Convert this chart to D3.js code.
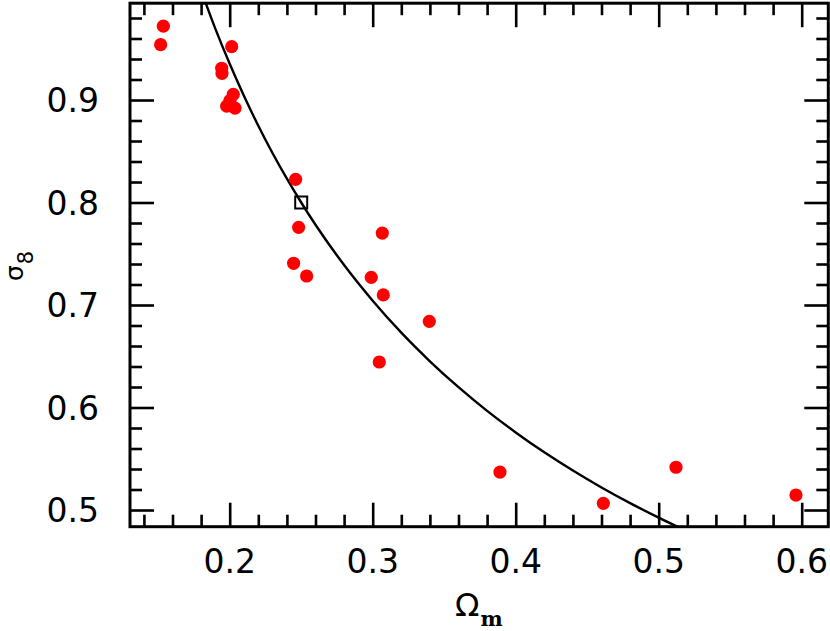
<!DOCTYPE html>
<html>
<head>
<meta charset="utf-8">
<script src="https://cdn.jsdelivr.net/npm/d3@7/dist/d3.min.js"></script>
<style>
  html, body { margin: 0; padding: 0; background: #fff; }
  svg { display: block; }
</style>
</head>
<body>
<svg id="chart" width="830" height="631"></svg>
<script>
// ---- data ----
const omegaM = [0.1536, 0.1517, 0.2014, 0.1944, 0.1946, 0.2025, 0.2002, 0.1979, 0.2037,
                0.2461, 0.2482, 0.3067, 0.2447, 0.2538, 0.2990, 0.3074, 0.3396, 0.3046,
                0.3890, 0.4613, 0.5121, 0.5960];
const sigma8 = [0.972, 0.954, 0.952, 0.931, 0.926, 0.9055, 0.8995, 0.894, 0.892,
                0.8226, 0.7758, 0.7702, 0.7407, 0.7283, 0.7270, 0.7098, 0.6841, 0.6444,
                0.537, 0.5065, 0.5417, 0.5146];
const fiducialX = [0.25];
const fiducialY = [0.80];
const curveX = [0.18, 0.19, 0.20, 0.21, 0.22, 0.23, 0.24, 0.25, 0.26, 0.28, 0.30,
                0.32, 0.34, 0.36, 0.38, 0.40, 0.42, 0.44, 0.46, 0.48, 0.50, 0.52];
const curveY = [1.0069, 0.9694, 0.9353, 0.9039, 0.8749, 0.8481, 0.8232, 0.8000, 0.7783, 0.7390, 0.7042,
                0.6730, 0.6451, 0.6198, 0.5967, 0.5757, 0.5563, 0.5385, 0.5220, 0.5067, 0.4925, 0.4791];
const xMajorTicks = [0.2, 0.3, 0.4, 0.5, 0.6];
const yMajorTicks = [0.5, 0.6, 0.7, 0.8, 0.9];
const xMinorTicks = d3.range(14, 62, 2).map(v => v / 100).filter(v => !xMajorTicks.some(m => Math.abs(m - v) < 1e-9));
const yMinorTicks = d3.range(50, 100, 2).map(v => v / 100).filter(v => !yMajorTicks.some(m => Math.abs(m - v) < 1e-9));

// ---- layout ----
const L = 130, R = 828.3, T = 3.2, B = 526.7;
const x = d3.scaleLinear().domain([0.13028, 0.6186]).range([L, R]);
const y = d3.scaleLinear().domain([0.48371, 0.99444]).range([B, T]);

const svg = d3.select("#chart");
const font = "'DejaVu Sans', sans-serif";

svg.append("defs").append("clipPath").attr("id", "clip")
  .append("rect").attr("x", L).attr("y", T).attr("width", R - L).attr("height", B - T);

// ---- axes (ticks inward on all four sides) ----
function addAxis(gen, transform) {
  const g = svg.append("g").attr("transform", transform).call(gen);
  g.select(".domain").remove();
  g.selectAll("line").attr("stroke", "#000").attr("stroke-width", 2.6);
  g.selectAll("text").remove();
  return g;
}
const maj = 24, min = 12;
addAxis(d3.axisBottom(x).tickValues(xMajorTicks).tickSize(-maj), `translate(0,${B})`);
addAxis(d3.axisBottom(x).tickValues(xMinorTicks).tickSize(-min), `translate(0,${B})`);
addAxis(d3.axisTop(x).tickValues(xMajorTicks).tickSize(-maj), `translate(0,${T})`);
addAxis(d3.axisTop(x).tickValues(xMinorTicks).tickSize(-min), `translate(0,${T})`);
addAxis(d3.axisLeft(y).tickValues(yMajorTicks).tickSize(-maj), `translate(${L},0)`);
addAxis(d3.axisLeft(y).tickValues(yMinorTicks).tickSize(-min), `translate(${L},0)`);
addAxis(d3.axisRight(y).tickValues(yMajorTicks).tickSize(-maj), `translate(${R},0)`);
addAxis(d3.axisRight(y).tickValues(yMinorTicks).tickSize(-min), `translate(${R},0)`);

// tick labels
svg.append("g").selectAll("text").data(xMajorTicks).join("text")
  .attr("x", d => x(d)).attr("y", 573)
  .attr("text-anchor", "middle")
  .attr("font-family", font).attr("font-size", 33)
  .text(d => d.toFixed(1));
svg.append("g").selectAll("text").data(yMajorTicks).join("text")
  .attr("x", 99).attr("y", d => y(d) + 12)
  .attr("text-anchor", "end")
  .attr("font-family", font).attr("font-size", 33)
  .text(d => d.toFixed(1));

// ---- curve ----
const pts = curveX.map((v, i) => [v, curveY[i]]);
svg.append("path")
  .attr("clip-path", "url(#clip)")
  .attr("d", d3.line().x(d => x(d[0])).y(d => y(d[1])).curve(d3.curveMonotoneX)(pts))
  .attr("fill", "none").attr("stroke", "#000").attr("stroke-width", 2.4);

// ---- points ----
svg.append("g").selectAll("circle").data(omegaM.map((v, i) => [v, sigma8[i]])).join("circle")
  .attr("cx", d => x(d[0])).attr("cy", d => y(d[1])).attr("r", 6.6)
  .attr("fill", "#ff0000");

// fiducial square
const sq = 12;
svg.append("g").selectAll("rect").data(fiducialX.map((v, i) => [v, fiducialY[i]])).join("rect")
  .attr("x", d => x(d[0]) - sq / 2).attr("y", d => y(d[1]) - sq / 2)
  .attr("width", sq).attr("height", sq)
  .attr("fill", "none").attr("stroke", "#000").attr("stroke-width", 2);

// frame
svg.append("rect").attr("x", L).attr("y", T).attr("width", R - L).attr("height", B - T)
  .attr("fill", "none").attr("stroke", "#000").attr("stroke-width", 3);

// ---- axis titles ----
const xt = svg.append("text").attr("x", 455).attr("y", 616)
  .attr("font-family", font).attr("font-size", 32);
xt.append("tspan").text("Ω");
xt.append("tspan").attr("dy", 10).attr("dx", 1)
  .attr("font-family", "'DejaVu Serif', serif").attr("font-weight", "bold").attr("font-size", 21).text("m");

const yt = svg.append("text").attr("transform", "translate(23,281) rotate(-90)")
  .attr("font-family", font).attr("font-size", 25);
yt.append("tspan").text("σ");
yt.append("tspan").attr("dy", 10).attr("dx", 1).attr("font-size", 21).text("8");
</script>
</body>
</html>
